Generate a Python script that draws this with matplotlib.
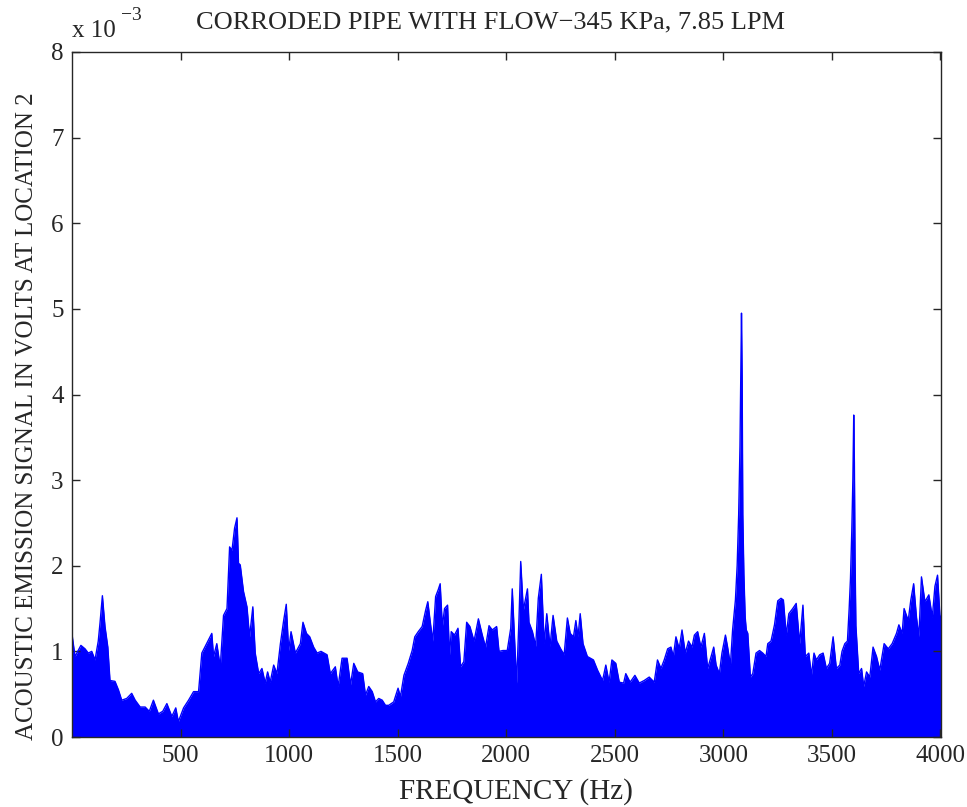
import matplotlib
matplotlib.use("Agg")
import matplotlib.pyplot as plt

# Spectrum envelope (frequency in Hz, amplitude in 1e-3 V)
freq_hz = [0, 14, 41, 60, 75, 91, 106, 121, 129, 140, 152, 165, 175, 198, 214, 229, 252, 275, 291, 314,
           337, 356, 375, 398, 418, 437, 460, 478, 490, 514, 537, 560, 583, 598, 626, 644, 652, 667, 683,
           698, 714, 726, 737, 749, 760, 767, 775, 790, 806, 818, 833, 844, 860, 875, 890, 901, 913, 929,
           944, 960, 975, 987, 998, 1009, 1029, 1052, 1064, 1080, 1095, 1113, 1129, 1147, 1175, 1190,
           1213, 1226, 1244, 1267, 1283, 1298, 1316,
           1339, 1352, 1367, 1383, 1398, 1413, 1429, 1444, 1459, 1482, 1502, 1513, 1529, 1549, 1567, 1579,
           1595, 1613, 1629, 1639, 1652, 1662, 1675, 1687, 1696, 1706, 1716, 1730, 1739, 1747, 1762, 1778,
           1790, 1805, 1818, 1833, 1852, 1872, 1890, 1905, 1921, 1936, 1956, 1967, 1985,
           2005, 2021, 2028, 2048, 2059, 2067, 2079, 2098, 2105, 2121, 2136, 2148, 2162, 2175, 2187, 2202,
           2216, 2233, 2251, 2267, 2282, 2295, 2310, 2321, 2331, 2341, 2354, 2374, 2402, 2421, 2444, 2459,
           2474, 2487, 2505, 2521, 2541, 2551, 2571, 2593, 2613, 2636,
           2659, 2682, 2697, 2713, 2728, 2744, 2759, 2770, 2782, 2797, 2810, 2825, 2840, 2856, 2867, 2882,
           2897, 2913, 2928, 2944, 2956, 2967, 2982, 2994, 3010, 3020, 3033, 3043, 3056, 3064, 3071, 3077,
           3081, 3084, 3087, 3090, 3095, 3101, 3106, 3113, 3125, 3136, 3151, 3167, 3182, 3197, 3205, 3220,
           3236, 3251, 3266, 3277, 3290, 3302, 3320, 3336,
           3352, 3367, 3378, 3394, 3406, 3418, 3429, 3444, 3460, 3475, 3490, 3506, 3521, 3537, 3547, 3560,
           3572, 3580, 3586, 3592, 3597, 3601, 3604, 3607, 3611, 3614, 3624, 3637, 3647, 3660, 3675, 3690,
           3706, 3721, 3741, 3760, 3778, 3798, 3809, 3824, 3833, 3852, 3864, 3877, 3890, 3901, 3913, 3929,
           3947, 3963, 3975, 3987, 3998, 4003]

amplitude_mv = [1.20, 0.94, 1.07, 1.03, 0.98, 1.00, 0.90, 1.12, 1.33, 1.65, 1.29, 1.05, 0.66, 0.65, 0.55, 0.43,
                0.45, 0.51, 0.43, 0.35, 0.35, 0.30, 0.43, 0.27, 0.30, 0.39, 0.24, 0.34, 0.18, 0.34, 0.43, 0.53,
                0.53, 0.98, 1.12, 1.21, 0.94, 1.09, 0.82,
                1.42, 1.50, 2.22, 2.18, 2.44, 2.56, 2.03, 2.01, 1.70, 1.52, 1.17, 1.52, 0.98, 0.74, 0.80, 0.63,
                0.76, 0.64, 0.84, 0.74, 1.09, 1.36, 1.55, 1.01, 1.23, 0.98, 1.09, 1.34, 1.21, 1.17, 1.05, 0.98,
                1.00, 0.96, 0.74, 0.82, 0.59, 0.92, 0.92, 0.61, 0.86, 0.76,
                0.74, 0.49, 0.59, 0.53, 0.41, 0.45, 0.43, 0.37, 0.37, 0.41, 0.57, 0.47, 0.72, 0.86, 1.01, 1.17,
                1.23, 1.29, 1.48, 1.58, 1.31, 1.12, 1.64, 1.72, 1.79, 1.29, 1.50, 1.54, 0.96, 1.23, 1.19, 1.27,
                0.82, 0.88, 1.34, 1.29, 1.12, 1.38, 1.19, 1.05, 1.30, 1.25, 1.29, 1.00, 1.01,
                1.01, 1.27, 1.73, 0.63, 1.38, 2.05, 1.48, 1.73, 1.34, 1.23, 1.06, 1.62, 1.90, 1.09, 1.44, 1.06,
                1.42, 1.12, 1.03, 0.96, 1.39, 1.21, 1.17, 1.36, 1.17, 1.44, 1.09, 0.94, 0.90, 0.78, 0.66, 0.84,
                0.64, 0.90, 0.86, 0.64, 0.63, 0.74, 0.64, 0.72, 0.63, 0.66,
                0.70, 0.64, 0.90, 0.80, 0.90, 1.03, 1.05, 0.94, 1.17, 1.03, 1.25, 0.98, 1.12, 1.05, 1.19, 1.23,
                1.05, 1.21, 0.80, 0.94, 1.05, 0.84, 0.74, 0.98, 1.19, 1.05, 0.84, 1.25, 1.60, 2.00, 2.60, 3.40,
                4.30, 4.95, 4.20, 2.60, 1.90, 1.40, 1.25, 1.21, 0.70, 0.74, 0.98, 1.01, 0.98, 0.94, 1.09, 1.12,
                1.31, 1.59, 1.62, 1.60, 1.19, 1.44, 1.50, 1.56,
                1.09, 1.54, 0.94, 0.98, 0.72, 0.98, 0.90, 0.96, 0.98, 0.80, 0.86, 1.17, 0.80, 0.84, 1.00, 1.09,
                1.12, 1.50, 1.85, 2.40, 3.00, 3.76, 3.20, 2.10, 1.30, 1.17, 0.74, 0.80, 0.59, 0.76, 0.70, 1.05,
                0.94, 0.78, 1.09, 1.03, 1.09, 1.21, 1.31, 1.21, 1.50, 1.36, 1.60, 1.79, 1.40, 1.17, 1.87, 1.58,
                1.66, 1.40, 1.76, 1.89, 1.42, 1.40]

x_ticks = [500, 1000, 1500, 2000, 2500, 3000, 3500, 4000]
y_ticks = [0, 1, 2, 3, 4, 5, 6, 7, 8]

title_text = "CORRODED PIPE WITH FLOW\u2212345 KPa, 7.85 LPM"
x_label = "FREQUENCY (Hz)"
y_label = "ACOUSTIC EMISSION SIGNAL IN VOLTS AT LOCATION 2"

plt.rcParams['font.family'] = ['Liberation Serif', 'DejaVu Serif']

text_color = '#262626'
blue = '#0000FF'

fig = plt.figure(figsize=(9.67, 8.07), dpi=100)
ax = fig.add_axes([72 / 967, 70 / 807, 869 / 967, 685 / 807])

ax.fill_between(freq_hz, 0, amplitude_mv, color=blue, lw=0)
ax.plot(freq_hz, amplitude_mv, color=blue, lw=1.0)

ax.set_xlim(0, 4003)
ax.set_ylim(0, 8)
ax.set_xticks(x_ticks)
ax.set_yticks(y_ticks)
ax.tick_params(direction='in', top=True, right=True, length=6, width=1,
               labelsize=18, colors=text_color, pad=6)
for sp in ax.spines.values():
    sp.set_color(text_color)
    sp.set_linewidth(1.0)

# exponent label, top-left
fig.text(72 / 967, 1 - 37 / 807, "x 10", ha='left', va='baseline',
         fontsize=18, color=text_color)
fig.text(121 / 967, 1 - 20 / 807, "\u22123", ha='left', va='baseline',
         fontsize=14, color=text_color)
fig.text(491 / 967, 1 - 22 / 807, title_text, ha='center', va='center',
         fontsize=19, color=text_color)
fig.text(516 / 967, 1 - 792 / 807, x_label, ha='center', va='center',
         fontsize=21, color=text_color)
fig.text(27 / 967, 1 - 416 / 807, y_label, ha='center', va='center',
         rotation=90, fontsize=18, color=text_color)

fig.savefig('out.png', dpi=100)
